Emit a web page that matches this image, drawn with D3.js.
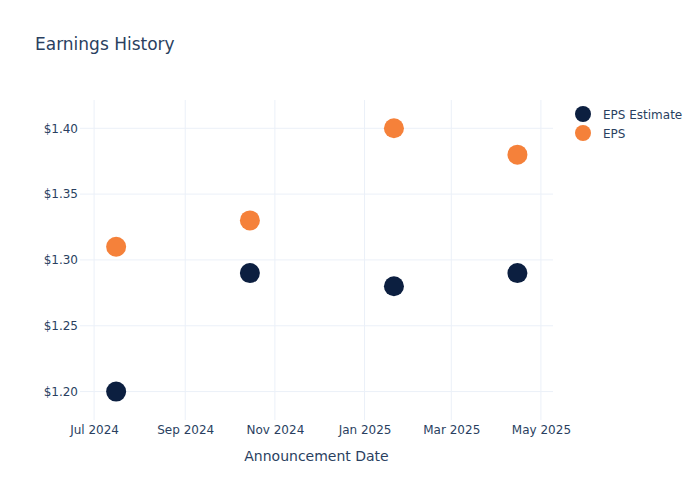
<!DOCTYPE html>
<html>
<head>
<meta charset="utf-8">
<script src="https://cdn.jsdelivr.net/npm/d3@7"></script>
<style>
  html, body { margin: 0; padding: 0; background: #fff; }
  svg, svg text { font-family: "DejaVu Sans", sans-serif; }
</style>
</head>
<body>
<svg id="chart" width="700" height="500"></svg>
<script>
// ---- data ----
const dates = ["2024-07-16", "2024-10-15", "2025-01-21", "2025-04-15"];
const epsEstimate = [1.20, 1.29, 1.28, 1.29];
const epsActual = [1.31, 1.33, 1.40, 1.38];
const seriesNames = ["EPS Estimate", "EPS"];
const seriesColors = ["#0c1f40", "#f5813a"];
const yTicks = [1.20, 1.25, 1.30, 1.35, 1.40];
const xTickDates = ["2024-07-01", "2024-09-01", "2024-11-01", "2025-01-01", "2025-03-01", "2025-05-01"];

// ---- layout ----
const W = 700, H = 500;
const m = { l: 80, r: 147, t: 100, b: 80 };
const svg = d3.select("#chart");
const parse = d3.utcParse("%Y-%m-%d");
const textColor = "#2a3f5f";
const gridColor = "#ebf0f8";
const font = "DejaVu Sans, sans-serif";

const x = d3.scaleUtc()
  .domain([new Date("2024-06-21T10:00:00Z"), new Date("2025-05-09T05:00:00Z")])
  .range([m.l, W - m.r]);
const y = d3.scaleLinear()
  .domain([1.1784, 1.4215])
  .range([H - m.b, m.t]);

// grid
const g = svg.append("g");
g.selectAll(".vg").data(xTickDates).join("line")
  .attr("x1", d => x(parse(d))).attr("x2", d => x(parse(d)))
  .attr("y1", m.t).attr("y2", H - m.b)
  .attr("stroke", gridColor).attr("stroke-width", 1);
g.selectAll(".hg").data(yTicks).join("line")
  .attr("x1", m.l).attr("x2", W - m.r)
  .attr("y1", d => y(d)).attr("y2", d => y(d))
  .attr("stroke", gridColor).attr("stroke-width", 1);

// axes
const xAxis = d3.axisBottom(x)
  .tickValues(xTickDates.map(parse))
  .tickFormat(d3.utcFormat("%b %Y"))
  .tickSize(0).tickPadding(5);
const xg = svg.append("g").attr("transform", `translate(0,${H - m.b})`).call(xAxis)
  .attr("font-family", font);
xg.select(".domain").remove();
xg.selectAll("text").attr("fill", textColor).attr("font-size", 12);

const yAxis = d3.axisLeft(y)
  .tickValues(yTicks)
  .tickFormat(d => "$" + d3.format(".2f")(d))
  .tickSize(0).tickPadding(2);
const yg = svg.append("g").attr("transform", `translate(${m.l},0)`).call(yAxis)
  .attr("font-family", font);
yg.select(".domain").remove();
yg.selectAll("text").attr("fill", textColor).attr("font-size", 12);

// points
const series = [epsEstimate, epsActual];
series.forEach((vals, i) => {
  svg.append("g").selectAll("circle")
    .data(vals.map((v, j) => ({ d: parse(dates[j]), v })))
    .join("circle")
    .attr("cx", d => x(d.d))
    .attr("cy", d => y(d.v))
    .attr("r", 10)
    .attr("fill", seriesColors[i]);
});

// title
svg.append("text").attr("x", 35).attr("y", 50)
  .attr("fill", textColor).attr("font-size", 17)
  .text("Earnings History");

// x axis title
svg.append("text")
  .attr("x", (m.l + W - m.r) / 2).attr("y", 461)
  .attr("text-anchor", "middle")
  .attr("fill", textColor).attr("font-size", 14)
  .text("Announcement Date");

// legend
const lg = svg.append("g");
seriesNames.forEach((n, i) => {
  const yy = 114 + i * 19;
  lg.append("circle").attr("cx", 583).attr("cy", yy).attr("r", 8).attr("fill", seriesColors[i]);
  lg.append("text").attr("x", 603).attr("y", yy + 4.5)
    .attr("fill", textColor).attr("font-size", 12).text(n);
});
</script>
</body>
</html>
